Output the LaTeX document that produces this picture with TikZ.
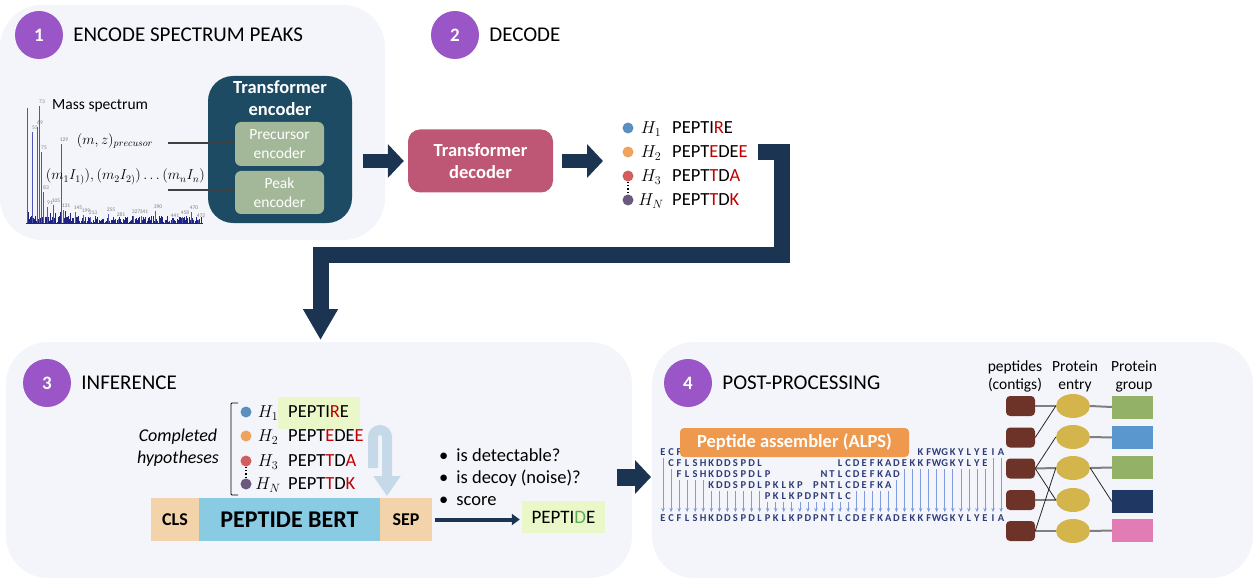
\documentclass[tikz,border=0pt]{standalone}
\usepackage{fontspec}
\setmainfont{Carlito}
\usetikzlibrary{arrows.meta,positioning,shapes.geometric}

\definecolor{panelbg}{HTML}{F4F5FB}
\definecolor{stepcol}{HTML}{9A55C6}
\definecolor{enccol}{HTML}{1C4B63}
\definecolor{subcol}{HTML}{A3B898}
\definecolor{deccol}{HTML}{BE5775}
\definecolor{navy}{HTML}{1B3451}
\definecolor{hone}{HTML}{5B8FC2}
\definecolor{htwo}{HTML}{F0A35E}
\definecolor{hthree}{HTML}{D25F5F}
\definecolor{hn}{HTML}{6A5A7D}
\definecolor{seqred}{HTML}{C00000}
\definecolor{hlgreen}{HTML}{EAF7C9}
\definecolor{dgreen}{HTML}{5BAE57}
\definecolor{clscol}{HTML}{F3D3A9}
\definecolor{bertcol}{HTML}{8ACBE4}
\definecolor{uturncol}{HTML}{C6D9E9}
\definecolor{alpscol}{HTML}{EE994D}
\definecolor{alntext}{HTML}{2D3C78}
\definecolor{alnline}{HTML}{7F9BDD}
\definecolor{pepcol}{HTML}{6E3328}
\definecolor{entcol}{HTML}{D4B54B}
\definecolor{ggreen}{HTML}{94B267}
\definecolor{gblue}{HTML}{5A97CE}
\definecolor{gnavy}{HTML}{1F3763}
\definecolor{gpink}{HTML}{E27CB4}
\definecolor{speccol}{HTML}{5055B8}
\definecolor{specdark}{HTML}{1E2480}
\definecolor{linkgrey}{HTML}{7F7F7F}

\begin{document}
\begin{tikzpicture}[x=1pt,y=-1pt,
    panel/.style={fill=panelbg,rounded corners=42pt},
    stepnum/.style={circle,fill=stepcol,text=white,minimum size=48pt,inner sep=0pt,
      font=\fontsize{19}{22}\selectfont\bfseries},
    steptitle/.style={anchor=west,inner sep=0pt,font=\fontsize{21}{24}\selectfont},
    fatarrow/.style={draw=navy,line width=14pt,-{Triangle[width=33pt,length=16pt]}},
    subenc/.style={fill=subcol,rounded corners=6pt,minimum width=89pt,text=white,
      align=center,inner sep=0pt,font=\fontsize{15.5}{19}\selectfont},
    mathlab/.style={inner sep=0pt,font=\fontsize{14}{17}\selectfont},
    hypdot/.style={circle,minimum size=11pt,inner sep=0pt},
    hyplab/.style={inner sep=0pt,font=\fontsize{18}{20}\selectfont},
    hypseq/.style={anchor=west,inner sep=0pt,font=\fontsize{18.5}{20}\selectfont},
    tokbox/.style={fill=clscol,minimum height=43pt,inner sep=0pt,outer sep=0pt,
      font=\fontsize{18}{20}\selectfont\bfseries},
    alnletter/.style={text=alntext,inner sep=0pt,font=\fontsize{10.5}{11}\selectfont\bfseries},
    alnarrow/.style={draw=alnline,line width=0.7pt,-{Stealth[length=4pt,width=3.5pt]}},
    colhead/.style={align=center,inner sep=0pt,font=\fontsize{15.5}{18}\selectfont},
    pepbox/.style={fill=pepcol,rounded corners=4pt,minimum width=29pt,minimum height=20pt,inner sep=0pt},
    entry/.style={ellipse,fill=entcol,minimum width=34pt,minimum height=24pt,inner sep=0pt},
    grpbox/.style={minimum width=41pt,minimum height=23pt,inner sep=0pt},
    hlink/.style={draw=linkgrey,line width=2pt},
    dlink/.style={draw=black!85,line width=0.8pt},
    speclab/.style={text=gray,inner sep=0pt,font=\fontsize{5.5}{6}\selectfont}
  ]
  \useasboundingbox (0,0) rectangle (1255,580);

  % panels
  \fill[panel] (0,5) rectangle (385,240);
  \fill[panel] (6,342) rectangle (632,578);
  \fill[panel] (652,342) rectangle (1253,578);

  % step headings
  \foreach \n/\x/\y/\title in {1/39/35/ENCODE SPECTRUM PEAKS, 2/455/35/DECODE,
                              3/47/383/INFERENCE, 4/688/383/POST-PROCESSING} {
    \node[stepnum] (step\n) at (\x,\y) {\n};
    \node[steptitle,right=10pt of step\n] (title\n) {\title};
  }

  % mass spectrum
  \pgfmathsetseed{7}
  \foreach \x in {28,29.2,...,201}
    \draw[specdark,line width=0.5pt] (\x,223) -- (\x,{222-6*rnd});
  \foreach \x in {28,30.5,...,75}
    \draw[specdark,line width=0.6pt] (\x,223) -- (\x,{220-9*rnd});
  \draw[specdark,line width=0.8pt] (26,223) -- (203,223);
  \draw[speccol,line width=0.9pt] (27,223) -- (27,108);
  \foreach \x/\ytop/\lab in {32/132/55,37/127/69,39/106/73,41/152/75,43/192/83,47/207/91,
      53/205/105,61/144/129,63/210/131,75/212/145,83/215/199,90/217/213,108/214/255,
      118/219/281,133/216/327,141/216/341,155/211/390,172/220/441,182/217/458,
      191/212/470,198/220/472} {
    \draw[speccol,line width=0.9pt] (\x,223) -- (\x,\ytop);
    \node[speclab] at (\x+3,\ytop-4) {\lab};
  }
  \node[anchor=west,inner sep=0pt,font=\fontsize{15.5}{18}\selectfont] (mslab) at (52,106) {Mass spectrum};
  \node[mathlab] (mz) at (115,141) {$(m,z)_{precusor}$};
  \node[mathlab,anchor=east] (pk) at (205,177) {$(m_1I_{1)}),(m_2I_{2)})\ldots(m_nI_n)$};

  % encoder
  \node[fill=enccol,rounded corners=25pt,minimum width=144pt,minimum height=147pt] (enc) at (280,149.5) {};
  \node[align=center,text=white,inner sep=0pt,font=\fontsize{18.5}{22}\selectfont\bfseries] (enctitle) at (280,98) {Transformer\\encoder};
  \node[subenc,minimum height=44pt] (prec) at (279.5,144) {Precursor\\encoder};
  \node[subenc,minimum height=43pt] (peak) at (279.5,192.5) {Peak\\encoder};
  \coordinate (mzend) at (168,143);
  \coordinate (pkend) at (168,190);
  \draw[draw=black!75,line width=2.5pt] (mzend) -- (mzend -| prec.west);
  \draw[draw=black!75,line width=2.5pt] (pkend) -- (pkend -| peak.west);

  % decoder
  \node[fill=deccol,rounded corners=12pt,minimum width=145pt,minimum height=63pt,text=white,
        align=center,inner sep=0pt,font=\fontsize{18.5}{22}\selectfont\bfseries] (dec) at (480.5,161) {Transformer\\decoder};
  \draw[fatarrow] ([xshift=11pt]enc.east |- dec.west) -- ([xshift=-4pt]dec.west);
  \coordinate (declist) at (603,161);
  \draw[fatarrow] ([xshift=9pt]dec.east) -- (declist);

  % decoded hypotheses
  \foreach \i/\y/\col/\lab/\seq in {1/128/hone/1/{PEPTI\textcolor{seqred}{R}E},
      2/152/htwo/2/{PEPT\textcolor{seqred}{E}DE\textcolor{seqred}{E}},
      3/176/hthree/3/{PEPT\textcolor{seqred}{T}D\textcolor{seqred}{A}},
      4/200/hn/N/{PEPT\textcolor{seqred}{T}D\textcolor{seqred}{K}}} {
    \node[hypdot,fill=\col] (ddot\i) at (628,\y) {};
    \node[hyplab] (dlab\i) at (651,\y+1) {$H_{\lab}$};
    \node[hypseq] (dseq\i) at (672,\y) {\seq};
  }
  \draw[dotted,line width=1.3pt] (ddot3.south) -- (ddot4.north);

  % to inference
  \coordinate (loopstart) at (758,152.5);
  \draw[fatarrow,line width=16pt,-{Triangle[width=33pt,length=31pt]}]
    (loopstart) -- (781.5,152.5) -- (781.5,255) -- (320.5,255) -- (320.5,340);

  % inference
  \node[fill=hlgreen,minimum width=82pt,minimum height=32pt,inner sep=0pt] (best) at (319,413) {};
  \foreach \i/\y/\col/\lab/\seq in {1/412/hone/1/{PEPTI\textcolor{seqred}{R}E},
      2/436/htwo/2/{PEPT\textcolor{seqred}{E}DE\textcolor{seqred}{E}},
      3/461/hthree/3/{PEPT\textcolor{seqred}{T}D\textcolor{seqred}{A}},
      4/484/hn/N/{PEPT\textcolor{seqred}{T}D\textcolor{seqred}{K}}} {
    \node[hypdot,fill=\col] (idot\i) at (246,\y) {};
    \node[hyplab] (ilab\i) at (268,\y+1) {$H_{\lab}$};
    \node[hypseq] (iseq\i) at (288,\y) {\seq};
  }
  \draw[dotted,line width=1.3pt] (idot3.south) -- (idot4.north);
  \draw[line width=0.8pt,rounded corners=1pt] (238,403) -- (231,403) -- (231,495) -- (238,495);
  \node[align=center,inner sep=0pt,font=\fontsize{18}{22}\selectfont\itshape] (compl) at (178,448) {Completed\\hypotheses};

  \node[tokbox,minimum width=48pt] (cls) at (175,519.5) {CLS};
  \node[tokbox,fill=bertcol,minimum width=181pt,right=0pt of cls,
        font=\fontsize{24}{26}\selectfont\bfseries] (bert) {PEPTIDE BERT};
  \node[tokbox,minimum width=52pt,right=0pt of bert] (sep) {SEP};
  \draw[draw=uturncol,line width=10pt,-{Triangle[width=26pt,length=20pt]}]
    (373,468) -- (373,437) arc[start angle=180,end angle=360,radius=7] -- (387,496);

  \node[fill=hlgreen,minimum width=83pt,minimum height=32pt,inner sep=0pt,
        font=\fontsize{19}{20}\selectfont] (pepres) at (563.5,517) {PEPTI\textcolor{dgreen}{D}E};
  \draw[draw=navy,line width=4pt,-{Triangle[width=11pt,length=8pt]}]
    ([xshift=3pt]sep.east) -- ([xshift=-2pt]pepres.west |- sep.east);
  \node[anchor=west,align=left,inner sep=0pt,font=\fontsize{18.5}{22}\selectfont] (checks) at (439,477)
    {\textbullet\hspace{8pt}is detectable?\\\textbullet\hspace{8pt}is decoy (noise)?\\\textbullet\hspace{8pt}score};

  \coordinate (infout) at (617,477);
  \coordinate (postin) at (651,477);
  \draw[fatarrow,line width=17pt] (infout) -- (postin);

  % post-processing: assembly
  \foreach \y/\first/\seq in {452/0/{E,C,F}, 452/32/{K,F,W,G,K,Y,L,Y,E,I,A},
      463/1/{C,F,L,S,H,K,D,D,S,P,D,L}, 463/22/{L,C,D,E,F,K,A,D,E,K,K,F,W,G,K,Y,L,Y,E},
      474/2/{F,L,S,H,K,D,D,S,P,D,L,P}, 474/20/{N,T,L,C,D,E,F,K,A,D},
      485/6/{K,D,D,S,P,D,L,P,K,L,K,P}, 485/19/{P,N,T,L,C,D,E,F,K,A},
      496/13/{P,K,L,K,P,D,P,N,T,L,C},
      518/0/{E,C,F,L,S,H,K,D,D,S,P,D,L,P,K,L,K,P,D,P,N,T,L,C,D,E,F,K,A,D,E,K,K,F,W,G,K,Y,L,Y,E,I,A}} {
    \foreach \ch [count=\k from 0] in \seq
      \node[alnletter] at ({663+8.05*(\first+\k)},\y) {\ch};
  }
  \foreach \a/\b/\y in {0/0/452,1/1/463,2/5/474,6/12/485,13/23/496,24/28/485,29/29/474,30/40/463,41/42/452}
    \foreach \c in {\a,...,\b}
      \draw[alnarrow] ({663+8.05*\c},{\y+6}) -- ({663+8.05*\c},512);
  \node[fill=alpscol,rounded corners=4pt,minimum width=229pt,minimum height=29pt,text=white,
        inner sep=0pt,font=\fontsize{18.5}{20}\selectfont\bfseries] (alps) at (794.5,442.5) {Peptide assembler (ALPS)};

  % post-processing: protein inference
  \node[colhead] (pephead) at (1015,376) {peptides\\(contigs)};
  \node[colhead] (enthead) at (1075,376) {Protein\\entry};
  \node[colhead] (grphead) at (1134,376) {Protein\\group};
  \foreach \i/\y in {1/406,2/437.5,3/468.5,4/500,5/531}
    \node[pepbox] (pep\i) at (1020.5,\y) {};
  \foreach \i/\y in {1/406,2/437,3/468,4/500,5/531}
    \node[entry] (ent\i) at (1073,\y) {};
  \foreach \i/\y/\col in {1/407/ggreen,2/437.5/gblue,3/467.5/ggreen,4/501.5/gnavy,5/530.5/gpink}
    \node[grpbox,fill=\col] (grp\i) at (1132.5,\y) {};
  \foreach \p/\e in {1/1,3/3,4/4,5/5}
    \draw[hlink] (pep\p.east) -- (ent\e.west);
  \foreach \p/\e in {2/1,3/2,3/4,5/3}
    \draw[dlink] (pep\p.east) -- (ent\e.west);
  \foreach \e/\g in {1/1,2/2,3/3,5/5}
    \draw[hlink] (ent\e.east) -- (grp\g.west);
  \draw[dlink] (ent3.east) -- (grp4.west);
\end{tikzpicture}
\end{document}
